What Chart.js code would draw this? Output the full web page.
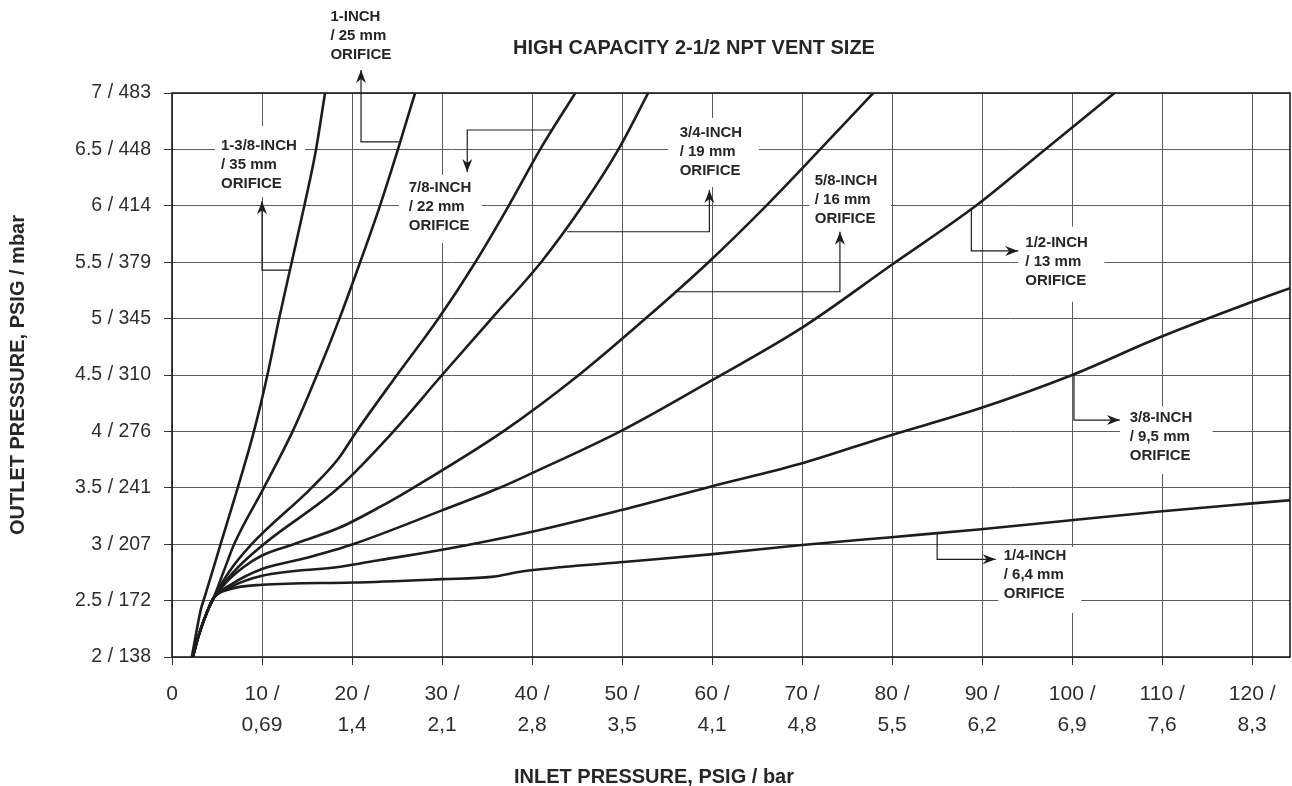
<!DOCTYPE html>
<html>
<head>
<meta charset="utf-8">
<title>High capacity 2-1/2 NPT vent size</title>
<script src="https://cdn.jsdelivr.net/npm/chart.js@4.4.0/dist/chart.umd.min.js"></script>
<style>
  html, body { margin: 0; padding: 0; background: #fff; }
  #wrap { width: 1292px; height: 786px; }
</style>
</head>
<body>
<div id="wrap"><canvas id="myChart" width="1292" height="786"></canvas></div>
<script>
// ---- data: inlet psig (x) / outlet psig (y) ----
var chartTitle = "HIGH CAPACITY 2-1/2 NPT VENT SIZE";
var xAxisTitle = "INLET PRESSURE, PSIG / bar";
var yAxisTitle = "OUTLET PRESSURE, PSIG / mbar";

var inletTickValues = [0, 10, 20, 30, 40, 50, 60, 70, 80, 90, 100, 110, 120];
var inletTickLabels = ["0", ["10 /", "0,69"], ["20 /", "1,4"], ["30 /", "2,1"], ["40 /", "2,8"],
  ["50 /", "3,5"], ["60 /", "4,1"], ["70 /", "4,8"], ["80 /", "5,5"], ["90 /", "6,2"],
  ["100 /", "6,9"], ["110 /", "7,6"], ["120 /", "8,3"]];
var outletTickLabels = ["2 / 138", "2.5 / 172", "3 / 207", "3.5 / 241", "4 / 276", "4.5 / 310",
  "5 / 345", "5.5 / 379", "6 / 414", "6.5 / 448", "7 / 483"];

var orificeNames = ["1-3/8-INCH", "1-INCH", "7/8-INCH", "3/4-INCH", "5/8-INCH", "1/2-INCH", "3/8-INCH", "1/4-INCH"];

var inlet138 = [2.2, 2.7, 3.2, 3.7, 5.4, 7.3, 9.1, 10.6, 11.9, 13.3, 14.7, 16.0, 17.0];
var outlet138 = [2.0, 2.22, 2.42, 2.55, 3.0, 3.5, 4.0, 4.5, 5.0, 5.5, 6.0, 6.5, 7.0];

var inlet100 = [2.3, 3.0, 3.9, 4.6, 5.7, 6.9, 10.2, 13.4, 16.1, 18.6, 20.9, 23.1, 25.1, 27.0];
var outlet100 = [2.0, 2.2, 2.4, 2.52, 2.75, 3.0, 3.5, 4.0, 4.5, 5.0, 5.5, 6.0, 6.5, 7.0];

var inlet78 = [2.3, 3.0, 3.9, 4.6, 6.3, 8.85, 15.5, 18.5, 20.5, 25.0, 29.6, 33.7, 37.4, 40.9, 44.8];
var outlet78 = [2.0, 2.2, 2.4, 2.52, 2.75, 3.0, 3.5, 3.76, 4.0, 4.5, 5.0, 5.5, 6.0, 6.5, 7.0];

var inlet34 = [2.3, 3.0, 3.9, 4.6, 6.8, 10.2, 18.5, 24.6, 30.0, 35.5, 41.0, 45.6, 49.6, 52.9];
var outlet34 = [2.0, 2.2, 2.4, 2.52, 2.75, 3.0, 3.5, 4.0, 4.5, 5.0, 5.5, 6.0, 6.5, 7.0];

var inlet58 = [2.3, 3.0, 3.9, 4.6, 6.0, 8.0, 10.0, 13.5, 18.7, 23.1, 26.8, 36.8, 45.2, 52.6, 59.6, 66.0, 72.0, 77.9];
var outlet58 = [2.0, 2.2, 2.4, 2.52, 2.66, 2.8, 2.9, 3.0, 3.15, 3.33, 3.5, 4.0, 4.5, 5.0, 5.5, 6.0, 6.5, 7.0];

var inlet12 = [2.3, 3.0, 3.9, 4.6, 6.5, 10.0, 15.0, 20.1, 30.0, 36.4, 40.0, 49.8, 59.9, 70.0, 80.0, 89.3, 97.0, 104.7];
var outlet12 = [2.0, 2.2, 2.4, 2.52, 2.64, 2.78, 2.88, 3.0, 3.3, 3.5, 3.63, 4.0, 4.45, 4.92, 5.48, 6.0, 6.5, 7.0];

var inlet38 = [2.3, 3.0, 3.9, 4.6, 6.5, 10.0, 18.7, 23.1, 30.0, 40.0, 49.8, 59.8, 69.7, 79.6, 89.6, 100.0, 109.6, 119.7, 124.2];
var outlet38 = [2.0, 2.2, 2.4, 2.52, 2.62, 2.72, 2.8, 2.86, 2.95, 3.11, 3.30, 3.51, 3.71, 3.96, 4.20, 4.50, 4.83, 5.14, 5.27];

var inlet14 = [2.3, 3.0, 3.9, 4.6, 6.4, 10.0, 20.0, 30.0, 35.5, 39.0, 49.8, 59.8, 69.7, 79.6, 89.6, 99.6, 109.7, 119.7, 124.2];
var outlet14 = [2.0, 2.2, 2.4, 2.52, 2.6, 2.64, 2.66, 2.69, 2.71, 2.76, 2.84, 2.91, 2.99, 3.06, 3.13, 3.21, 3.29, 3.36, 3.39];

// ---- callouts (label text, anchor / white box / leader path in data units) ----
var callouts = [
  { lines: ["1-INCH", "/ 25 mm", "ORIFICE"], at: [17.6, 7.674], box: null,
    path: [[25.2, 6.566], [21.0, 6.566], [21.0, 7.204]] },
  { lines: ["1-3/8-INCH", "/ 35 mm", "ORIFICE"], at: [5.44, 6.533], box: [4.78, 6.707, 14.78, 6.078],
    path: [[13.1, 5.43], [10.0, 5.43], [10.0, 6.04]] },
  { lines: ["7/8-INCH", "/ 22 mm", "ORIFICE"], at: [26.3, 6.16], box: [25.2, 6.273, 34.4, 5.67],
    path: [[42.2, 6.672], [32.8, 6.672], [32.8, 6.30]] },
  { lines: ["3/4-INCH", "/ 19 mm", "ORIFICE"], at: [56.4, 6.643], box: [55.1, 6.778, 65.2, 6.167],
    path: [[43.9, 5.77], [59.7, 5.77], [59.7, 6.14]] },
  { lines: ["5/8-INCH", "/ 16 mm", "ORIFICE"], at: [71.4, 6.222], box: [70.8, 6.353, 79.9, 5.786],
    path: [[56.0, 5.238], [74.2, 5.238], [74.2, 5.77]] },
  { lines: ["1/2-INCH", "/ 13 mm", "ORIFICE"], at: [94.8, 5.67], box: [94.0, 5.815, 103.6, 5.15],
    path: [[88.8, 5.98], [88.8, 5.60], [94.0, 5.60]] },
  { lines: ["3/8-INCH", "/ 9,5 mm", "ORIFICE"], at: [106.4, 4.121], box: [105.3, 4.219, 115.6, 3.622],
    path: [[100.2, 4.5], [100.2, 4.10], [105.3, 4.10]] },
  { lines: ["1/4-INCH", "/ 6,4 mm", "ORIFICE"], at: [92.4, 2.898], box: [91.8, 2.975, 101.0, 2.39],
    path: [[85.0, 3.095], [85.0, 2.866], [91.5, 2.866]] }
];

var FONT = "'Liberation Sans', Arial, Helvetica, sans-serif";
var INK = "#1e1c1d";

function pts(xs, ys) {
  var out = [];
  for (var i = 0; i < xs.length; i++) out.push({ x: xs[i], y: ys[i] });
  return out;
}

var seriesX = [inlet138, inlet100, inlet78, inlet34, inlet58, inlet12, inlet38, inlet14];
var seriesY = [outlet138, outlet100, outlet78, outlet34, outlet58, outlet12, outlet38, outlet14];
var datasets = [];
for (var i = 0; i < orificeNames.length; i++) {
  datasets.push({
    label: orificeNames[i],
    data: pts(seriesX[i], seriesY[i]),
    borderColor: INK,
    borderWidth: 2.6,
    pointRadius: 0,
    fill: false,
    cubicInterpolationMode: "monotone"
  });
}

function arrowHead(ctx, from, tip) {
  var dx = tip[0] - from[0], dy = tip[1] - from[1];
  var len = Math.sqrt(dx * dx + dy * dy) || 1;
  var ux = dx / len, uy = dy / len;
  var L = 13, W = 5, N = 9;
  ctx.beginPath();
  ctx.moveTo(tip[0], tip[1]);
  ctx.lineTo(tip[0] - ux * L - uy * W, tip[1] - uy * L + ux * W);
  ctx.lineTo(tip[0] - ux * N, tip[1] - uy * N);
  ctx.lineTo(tip[0] - ux * L + uy * W, tip[1] - uy * L - ux * W);
  ctx.closePath();
  ctx.fill();
}

var calloutPlugin = {
  id: "callouts",
  beforeDatasetsDraw: function (chart) {
    var ctx = chart.ctx, sx = chart.scales.x, sy = chart.scales.y;
    ctx.save();
    ctx.fillStyle = "#fff";
    callouts.forEach(function (c) {
      if (!c.box) return;
      var x1 = sx.getPixelForValue(c.box[0]), y1 = sy.getPixelForValue(c.box[1]);
      var x2 = sx.getPixelForValue(c.box[2]), y2 = sy.getPixelForValue(c.box[3]);
      ctx.fillRect(x1, y1, x2 - x1, y2 - y1);
    });
    ctx.restore();
  },
  afterDatasetsDraw: function (chart) {
    var ctx = chart.ctx, sx = chart.scales.x, sy = chart.scales.y, a = chart.chartArea;
    ctx.save();
    // plot frame
    ctx.strokeStyle = INK;
    ctx.lineWidth = 1.6;
    ctx.strokeRect(a.left, a.top, a.right - a.left, a.bottom - a.top);

    callouts.forEach(function (c) {
      var p = c.path.map(function (q) { return [sx.getPixelForValue(q[0]), sy.getPixelForValue(q[1])]; });
      ctx.strokeStyle = INK;
      ctx.fillStyle = INK;
      ctx.lineWidth = 1.2;
      ctx.beginPath();
      ctx.moveTo(p[0][0], p[0][1]);
      for (var k = 1; k < p.length; k++) ctx.lineTo(p[k][0], p[k][1]);
      ctx.stroke();
      arrowHead(ctx, p[p.length - 2], p[p.length - 1]);

      var tx = sx.getPixelForValue(c.at[0]), ty = sy.getPixelForValue(c.at[1]);
      ctx.font = "bold 15px " + FONT;
      ctx.textAlign = "left";
      ctx.textBaseline = "middle";
      ctx.fillStyle = "#262626";
      c.lines.forEach(function (t, j) { ctx.fillText(t, tx, ty + j * 19); });
    });
    ctx.restore();
  },
  afterDraw: function (chart) {
    var ctx = chart.ctx;
    ctx.save();
    ctx.fillStyle = "#262626";
    ctx.font = "bold 20px " + FONT;
    ctx.textAlign = "center";
    ctx.textBaseline = "middle";
    ctx.fillText(chartTitle, 694, 48);
    ctx.fillText(xAxisTitle, 654, 777);
    ctx.restore();
  }
};

new Chart("myChart", {
  type: "line",
  data: { datasets: datasets },
  plugins: [calloutPlugin],
  options: {
    responsive: false,
    animation: false,
    layout: { padding: { left: 0, right: 2, top: 93, bottom: 0 } },
    plugins: {
      legend: { display: false },
      tooltip: { enabled: false }
    },
    scales: {
      x: {
        type: "linear",
        min: 0,
        max: 124.2,
        afterBuildTicks: function (scale) {
          scale.ticks = inletTickValues.map(function (v) { return { value: v }; });
        },
        afterFit: function (scale) { scale.height = 129; },
        grid: { color: "#5c5c5c", lineWidth: 1, tickLength: 8, tickColor: "#333" },
        border: { display: false },
        ticks: {
          autoSkip: false,
          maxRotation: 0,
          padding: 13,
          color: "#2e2e2e",
          font: { family: FONT, size: 21, lineHeight: 1.5 },
          callback: function (value, index) { return inletTickLabels[index]; }
        }
      },
      y: {
        type: "linear",
        min: 2,
        max: 7,
        afterFit: function (scale) { scale.width = 172; },
        grid: { color: "#5c5c5c", lineWidth: 1, tickLength: 8, tickColor: "#333" },
        border: { display: false },
        title: {
          display: true,
          text: yAxisTitle,
          color: "#262626",
          font: { family: FONT, size: 20, weight: "bold" },
          padding: { top: 6, bottom: 0 }
        },
        ticks: {
          stepSize: 0.5,
          padding: 13,
          color: "#2e2e2e",
          font: { family: FONT, size: 19.5 },
          callback: function (value, index) { return outletTickLabels[index]; }
        }
      }
    }
  }
});
</script>
</body>
</html>
